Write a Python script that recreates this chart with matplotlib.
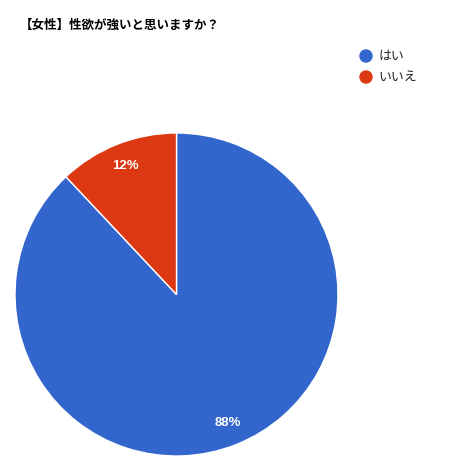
import matplotlib
matplotlib.use("Agg")
import matplotlib.pyplot as plt

labels = ["はい", "いいえ"]
values = [88, 12]
colors = ["#3366cc", "#dc3912"]
title = "【女性】性欲が強いと思いますか？"

plt.rcParams['font.family'] = ['Noto Sans CJK JP', 'DejaVu Sans']

fig = plt.figure(figsize=(4.73, 4.75), dpi=100)
ax = fig.add_axes([15 / 473, 19 / 475, 323 / 473, 323 / 475])

wedges, texts, autotexts = ax.pie(
    values, colors=colors, startangle=90, counterclock=False,
    autopct="%d%%", pctdistance=0.855,
    wedgeprops=dict(edgecolor="white", linewidth=1),
    textprops=dict(color="white", fontsize=9.5, family="Liberation Sans", weight="bold"),
)
ax.set_xlim(-1, 1)
ax.set_ylim(-1, 1)
ax.set_aspect("equal")

fig.text(20 / 473, 1 - 25 / 475, title, fontsize=9, weight="bold",
         color="#000000", va="center", ha="left")

# legend
for i, (lab, col) in enumerate(zip(labels, colors)):
    y = 1 - (56 + 21 * i) / 475
    fig.patches.append(plt.Circle((366 / 473, y), 6 / 473, color=col,
                                  transform=fig.transFigure, figure=fig))
    fig.text(378 / 473, y, lab, fontsize=9.3, color="#222222",
             va="center", ha="left")

fig.savefig("out.png", dpi=100)
